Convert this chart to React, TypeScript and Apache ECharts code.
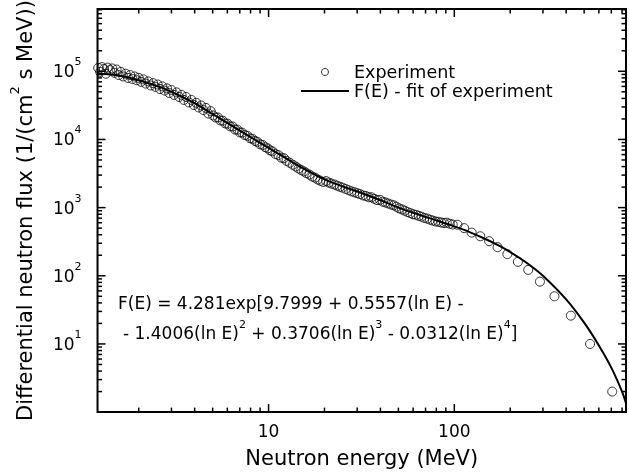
import React, { useEffect, useRef } from 'react';
import * as echarts from 'echarts';

const FONT = '"DejaVu Sans", "Liberation Sans", Arial, sans-serif';

const X_MIN = 1.2;
const X_MAX = 840;
const Y_MIN = 1;
const Y_MAX = 820000;

// F(E) fit curve
const fitEnergy = [1.2, 1.5, 2, 2.5, 3, 4, 5, 6, 8, 10, 12, 15, 20, 25, 30, 40, 50, 60, 70, 80, 100, 120, 150, 175, 200, 250, 300, 400, 500, 600, 700, 800, 840];
const fitFlux = [93000, 88000, 74000, 61000, 50000, 34000, 23500, 17500, 10800, 7500, 5600, 3900, 2600, 2050, 1720, 1280, 1000, 840, 730, 650, 530, 441, 338, 274, 223, 149, 100, 45, 20.5, 9.5, 4.5, 2.0, 1.35];

const expEnergy = [
  1.21, 1.24, 1.27, 1.30, 1.33, 1.36, 1.40, 1.44, 1.48, 1.52, 1.56, 1.60, 1.65, 1.70, 1.75, 1.80, 1.85, 1.90, 1.95, 2.00,
  2.06, 2.12, 2.18, 2.25, 2.32, 2.39, 2.46, 2.53, 2.60, 2.68, 2.76, 2.84, 2.92, 3.00,
  3.10, 3.20, 3.30, 3.40, 3.50, 3.60, 3.72, 3.84, 3.96, 4.08, 4.20, 4.33, 4.46, 4.60, 4.74, 4.88,
  5.03, 5.18, 5.34, 5.50, 5.67, 5.84, 6.02, 6.20, 6.40, 6.60, 6.80, 7.00, 7.20, 7.45, 7.70, 7.95, 8.20, 8.45, 8.70, 9.00, 9.30, 9.60, 9.90,
  10.2, 10.5, 10.9, 11.3, 11.7, 12.1, 12.5, 13.0, 13.5, 14.0, 14.5, 15.0, 15.5, 16.0, 16.6, 17.2, 17.8, 18.4, 19.0, 19.7,
  20.4, 21.1, 21.8, 22.6, 23.4, 24.2, 25.0, 26.0, 27.0, 28.0, 29.0, 30.0, 31.0, 32.2, 33.4, 34.6, 35.8, 37.0, 38.4, 39.8, 41.2, 42.6, 44.0, 45.6, 47.2, 48.8,
  50.5, 52.3, 54.1, 56.0, 58.0, 60.0, 62.2, 64.4, 66.6, 69.0, 71.5, 74.0, 76.6, 79.3, 82.0, 85.0, 88.0, 91.0, 94.5, 98.0,
  104, 113, 124, 138, 154, 171, 193, 220, 250, 289, 346, 424, 538, 708,
];
const expFlux = [
  112000, 98000, 115000, 108000, 92000, 113000, 104000, 110000, 95000, 106000, 88000, 98000, 84000, 92000, 80000, 88000, 77000, 84000, 74000, 80000,
  70000, 76000, 66000, 71000, 62000, 67000, 59000, 64000, 55000, 60000, 52000, 56000, 48000, 53000,
  45000, 49000, 42000, 45000, 38000, 42000, 35000, 38000, 32000, 34500, 29500, 31500, 27000, 29000, 24000, 26000,
  22500, 21000, 21000, 19000, 18800, 17200, 17000, 15600, 15500, 14000, 13900, 12700, 12600, 11600, 11300, 10400, 10200, 9500, 9200, 8500, 8300, 7700, 7400,
  6900, 6700, 6100, 5900, 5400, 5300, 4850, 4550, 4250, 4000, 3750, 3550, 3400, 3200, 3050, 2850, 2750, 2580, 2480, 2380,
  2450, 2330, 2250, 2180, 2100, 2020, 1960, 1880, 1800, 1730, 1680, 1630, 1580, 1510, 1480, 1420, 1420, 1350, 1290, 1300, 1220, 1190, 1150, 1110, 1080, 1030,
  975, 940, 900, 860, 830, 800, 785, 755, 735, 705, 690, 665, 645, 625, 620, 605, 595, 600, 580, 565,
  560, 500, 430, 380, 322, 263, 208, 160, 122, 82, 50, 26, 10, 2.0,
];

const xMajorTicks = [10, 100];
const xMinorTicks = [2, 3, 4, 5, 6, 7, 8, 9, 20, 30, 40, 50, 60, 70, 80, 90, 200, 300, 400, 500, 600, 700, 800];
const yMajorTicks = [10, 100, 1000, 10000, 100000];
const yMinorMantissas = [2, 3, 4, 5, 6, 7, 8, 9];
const yDecades = [1, 10, 100, 1000, 10000, 100000];

const xAxisTitle = 'Neutron energy (MeV)';
const yAxisTitle = 'Differential neutron flux (1/(cm{s|2} s MeV))';
const expName = 'Experiment';
const fitName = 'F(E) - fit of experiment';
const formulaLine1 = 'F(E) = 4.281exp[9.7999 + 0.5557(ln E) -';
const formulaLine2 = '- 1.4006(ln E){s|2} + 0.3706(ln E){s|3} - 0.0312(ln E){s|4}]';

const isPow10 = (v: number) => {
  const l = Math.log10(v);
  return Math.abs(l - Math.round(l)) < 1e-6;
};

export default function App() {
  const ref = useRef<HTMLDivElement>(null);
  useEffect(() => {
    if (!ref.current) return;
    const chart = echarts.init(ref.current, null, { renderer: 'svg' });
    const fitData = fitEnergy.map((e, i) => [e, fitFlux[i]]);
    const expData = expEnergy.map((e, i) => [e, expFlux[i]]);
    const xTickVals = [...xMajorTicks, ...xMinorTicks];
    const yMinorTicks: number[] = [];
    yDecades.forEach((d) => yMinorMantissas.forEach((m) => { if (m * d < Y_MAX) yMinorTicks.push(m * d); }));
    const yTickVals = [...yMajorTicks, ...yMinorTicks];
    const tickStyle = { stroke: '#000', lineWidth: 1.5 };
    const supStyle = { fontSize: 11, lineHeight: 11, verticalAlign: 'top', fontFamily: FONT, color: '#000' };

    chart.setOption({
      animation: false,
      textStyle: { fontFamily: FONT },
      grid: { left: 80, right: 1, top: 9, bottom: 57, show: true, borderColor: '#000', borderWidth: 2, backgroundColor: 'transparent' },
      legend: {
        data: [
          { name: expName, icon: 'circle', itemStyle: { color: 'transparent', borderColor: '#000', borderWidth: 1 } },
          { name: fitName, itemStyle: { color: 'transparent', borderColor: 'transparent', borderWidth: 0, opacity: 0 } },
        ],
        orient: 'vertical',
        left: 300,
        top: 62.5,
        padding: 0,
        itemWidth: 48,
        itemHeight: 7,
        itemGap: 0,
        selectedMode: false,
        textStyle: { fontSize: 17.5, lineHeight: 19, color: '#000', fontFamily: FONT },
      },
      xAxis: {
        type: 'log',
        logBase: 10,
        min: X_MIN,
        max: X_MAX,
        axisLine: { show: false },
        axisTick: { show: false },
        splitLine: { show: false },
        axisLabel: {
          interval: 0,
          margin: 9,
          fontSize: 17,
          lineHeight: 20,
          color: '#000',
          fontFamily: FONT,
          formatter: (v: number) => (isPow10(v) && v >= 10 ? String(Math.round(v)) : ''),
        },
        name: xAxisTitle,
        nameLocation: 'middle',
        nameGap: 30,
        nameTextStyle: { fontSize: 21, lineHeight: 24, color: '#000', fontFamily: FONT },
      },
      yAxis: {
        type: 'log',
        logBase: 10,
        min: Y_MIN,
        max: Y_MAX,
        axisLine: { show: false },
        axisTick: { show: false },
        splitLine: { show: false },
        axisLabel: {
          interval: 0,
          margin: 16,
          fontSize: 17,
          lineHeight: 30,
          color: '#000',
          fontFamily: FONT,
          formatter: (v: number) => (isPow10(v) && v >= 10 ? '10{s|' + Math.round(Math.log10(v)) + '}' : ''),
          rich: { s: supStyle },
        },
        name: yAxisTitle,
        nameLocation: 'middle',
        nameGap: 42,
        nameTextStyle: {
          fontSize: 21,
          lineHeight: 34,
          color: '#000',
          fontFamily: FONT,
          rich: { s: { fontSize: 13, lineHeight: 13, verticalAlign: 'top', fontFamily: FONT, color: '#000' } },
        },
      },
      graphic: [
        {
          type: 'text',
          x: 118,
          y: 303,
          silent: true,
          style: { text: formulaLine1, fontSize: 17, fontFamily: FONT, fill: '#000', verticalAlign: 'middle' },
        },
        {
          type: 'text',
          x: 123,
          y: 333,
          silent: true,
          style: {
            text: formulaLine2,
            fontSize: 17,
            lineHeight: 28,
            fontFamily: FONT,
            fill: '#000',
            verticalAlign: 'middle',
            rich: { s: { fontSize: 11, lineHeight: 11, verticalAlign: 'top', fontFamily: FONT, fill: '#000' } },
          },
        },
      ],
      series: [
        {
          name: expName,
          type: 'scatter',
          data: expData,
          symbol: 'circle',
          symbolSize: 9,
          itemStyle: { color: 'transparent', borderColor: '#000', borderWidth: 1 },
          z: 2,
          silent: true,
        },
        {
          name: fitName,
          type: 'line',
          data: fitData,
          symbol: 'none',
          smooth: 0.3,
          lineStyle: { color: '#000', width: 2 },
          itemStyle: { color: '#000' },
          z: 3,
          silent: true,
        },
        {
          type: 'custom',
          silent: true,
          clip: false,
          z: 5,
          data: xTickVals.map((v) => [v, Y_MIN]),
          renderItem: (params: any, api: any) => {
            const cs = params.coordSys;
            const px = api.coord([api.value(0), Y_MIN])[0];
            const len = params.dataIndex < xMajorTicks.length ? 8 : 4.5;
            const bottom = cs.y + cs.height;
            return {
              type: 'group',
              children: [
                { type: 'line', shape: { x1: px, y1: bottom, x2: px, y2: bottom - len }, style: tickStyle },
                { type: 'line', shape: { x1: px, y1: cs.y, x2: px, y2: cs.y + len }, style: tickStyle },
              ],
            };
          },
        },
        {
          type: 'custom',
          silent: true,
          clip: false,
          z: 5,
          data: yTickVals.map((v) => [X_MIN, v]),
          renderItem: (params: any, api: any) => {
            const cs = params.coordSys;
            const py = api.coord([X_MIN, api.value(1)])[1];
            const len = params.dataIndex < yMajorTicks.length ? 8 : 4.5;
            const right = cs.x + cs.width;
            return {
              type: 'group',
              children: [
                { type: 'line', shape: { x1: cs.x, y1: py, x2: cs.x + len, y2: py }, style: tickStyle },
                { type: 'line', shape: { x1: right, y1: py, x2: right - len, y2: py }, style: tickStyle },
              ],
            };
          },
        },
      ],
    });
    return () => chart.dispose();
  }, []);
  return <div ref={ref} style={{ position: 'fixed', left: 0, top: 0, width: 629, height: 475 }} />;
}
